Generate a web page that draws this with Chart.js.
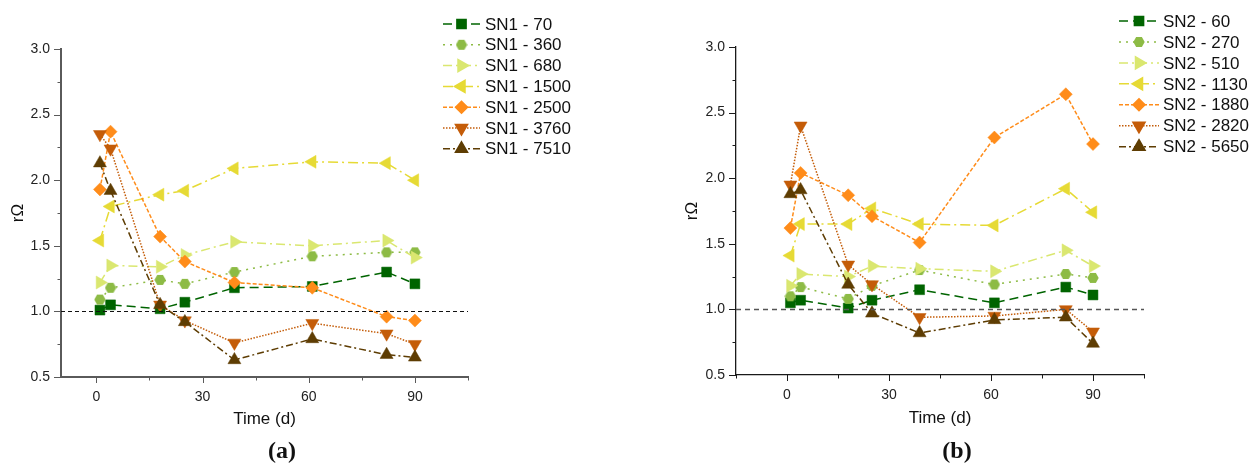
<!DOCTYPE html>
<html>
<head>
<meta charset="utf-8">
<script src="https://cdn.jsdelivr.net/npm/chart.js@4.4.1/dist/chart.umd.min.js"></script>
<style>
  html, body { margin: 0; padding: 0; background: #fff; }
  #wrap { position: relative; width: 1249px; height: 465px; }
  .panel { position: absolute; top: 0; height: 465px; }
</style>
</head>
<body>
<div id="wrap">
  <div class="panel" style="left:0;width:620px"><canvas id="chartA"></canvas></div>
  <div class="panel" style="left:620px;width:629px"><canvas id="chartB"></canvas></div>
</div>
<script>
// sampling days (x)
const days = [1, 4, 18, 25, 39, 61, 82, 90];
const xTickLabels = [0, 30, 60, 90];
const yTickLabels = [0.5, 1.0, 1.5, 2.0, 2.5, 3.0];

// panel (a) - SN1
const sn1Names = ["SN1 - 70", "SN1 - 360", "SN1 - 680", "SN1 - 1500", "SN1 - 2500", "SN1 - 3760", "SN1 - 7510"];
const sn1_70   = [1.01, 1.05, 1.02, 1.07, 1.18, 1.19, 1.30, 1.21];
const sn1_360  = [1.09, 1.18, 1.24, 1.21, 1.30, 1.42, 1.45, 1.45];
const sn1_680  = [1.22, 1.35, 1.34, 1.43, 1.53, 1.50, 1.54, 1.41];
const sn1_1500 = [1.54, 1.80, 1.89, 1.92, 2.09, 2.14, 2.13, 2.00];
const sn1_2500 = [1.93, 2.37, 1.57, 1.38, 1.22, 1.18, 0.96, 0.93];
const sn1_3760 = [2.35, 2.24, 1.05, 0.93, 0.76, 0.91, 0.83, 0.75];
const sn1_7510 = [2.13, 1.92, 1.05, 0.92, 0.63, 0.79, 0.67, 0.65];

// panel (b) - SN2
const sn2Names = ["SN2 - 60", "SN2 - 270", "SN2 - 510", "SN2 - 1130", "SN2 - 1880", "SN2 - 2820", "SN2 - 5650"];
const sn2_60   = [1.05, 1.07, 1.01, 1.07, 1.15, 1.05, 1.17, 1.11];
const sn2_270  = [1.10, 1.17, 1.08, 1.18, 1.30, 1.19, 1.27, 1.24];
const sn2_510  = [1.18, 1.27, 1.25, 1.33, 1.31, 1.29, 1.45, 1.33];
const sn2_1130 = [1.41, 1.65, 1.65, 1.77, 1.65, 1.64, 1.92, 1.74];
const sn2_1880 = [1.62, 2.04, 1.87, 1.71, 1.51, 2.31, 2.64, 2.26];
const sn2_2820 = [1.95, 2.40, 1.34, 1.19, 0.94, 0.95, 1.00, 0.83];
const sn2_5650 = [1.88, 1.91, 1.19, 0.97, 0.82, 0.92, 0.94, 0.74];

Chart.defaults.font.family = "'Liberation Sans', Arial, sans-serif";
Chart.defaults.color = '#222';

// hexagon marker (Chart.js has none)
function hexMarker(color, size) {
  const c = document.createElement('canvas');
  c.width = size; c.height = size;
  const g = c.getContext('2d');
  const r = size / 2;
  g.fillStyle = color;
  g.beginPath();
  for (let k = 0; k < 6; k++) {
    const a = Math.PI / 3 * k;
    const px = r + (r - 0.3) * Math.cos(a), py = r + (r - 0.3) * Math.sin(a);
    k === 0 ? g.moveTo(px, py) : g.lineTo(px, py);
  }
  g.closePath();
  g.fill();
  return c;
}

// one style per series position (same in both panels)
const seriesStyles = [
  { color: '#006400', marker: 'rect',     rot: 0,   radius: 7,   dash: [9, 5] },
  { color: '#8DBB45', marker: hexMarker('#8DBB45', 12), rot: 0, radius: 6, dash: [2, 5] },
  { color: '#DAE770', marker: 'triangle', rot: 90,  radius: 7.5, dash: [9, 4, 2, 4] },
  { color: '#E6DA35', marker: 'triangle', rot: -90, radius: 7.5, dash: [10, 4, 2, 4] },
  { color: '#FF8C1A', marker: 'rectRot',  rot: 0,   radius: 6.5, dash: [4, 2] },
  { color: '#C45C08', marker: 'triangle', rot: 180, radius: 7.5, dash: [1.5, 1.5] },
  { color: '#5E3D03', marker: 'triangle', rot: 0,   radius: 7.5, dash: [7, 3, 2, 3] }
];

function buildDatasets(names, series) {
  return names.map((name, i) => {
    const st = seriesStyles[i];
    return {
      label: name,
      data: days.map((d, j) => ({ x: d, y: series[i][j] })),
      borderColor: st.color,
      backgroundColor: st.color,
      borderWidth: 1.5,
      borderDash: st.dash,
      pointStyle: st.marker,
      pointRotation: st.rot,
      pointRadius: st.radius,
      pointBackgroundColor: st.color,
      pointBorderColor: st.color,
      pointBorderWidth: 0.5,
      order: names.length - i,
      tension: 0
    };
  });
}

// axes ticks, reference line, legend, titles
const decorPlugin = {
  id: 'decor',
  afterDraw(chart, args, o) {
    const ctx = chart.ctx;
    const xs = chart.scales.x, ys = chart.scales.y;
    const area = chart.chartArea;
    ctx.save();

    // dashed line at 1.0
    ctx.strokeStyle = o.refColor;
    ctx.lineWidth = o.refWidth;
    ctx.setLineDash(o.refDash);
    const yr = Math.round(ys.getPixelForValue(1.0)) + 0.5;
    ctx.beginPath();
    ctx.moveTo(area.left, yr);
    ctx.lineTo(area.right, yr);
    ctx.stroke();
    ctx.setLineDash([]);

    // tick marks, major + minor
    ctx.strokeStyle = o.axisColor;
    ctx.lineWidth = 1;
    for (let v = Math.ceil(xs.min / 15) * 15; v <= xs.max + 1e-6; v += 15) {
      const px = Math.round(xs.getPixelForValue(v)) + 0.5;
      const len = xTickLabels.includes(v) ? 6 : 3.5;
      ctx.beginPath();
      ctx.moveTo(px, area.bottom);
      ctx.lineTo(px, area.bottom + len);
      ctx.stroke();
    }
    for (let v = ys.min; v <= ys.max + 1e-6; v += 0.25) {
      const py = Math.round(ys.getPixelForValue(v)) + 0.5;
      const len = yTickLabels.some(t => Math.abs(t - v) < 1e-6) ? 7 : 3.5;
      ctx.beginPath();
      ctx.moveTo(area.left, py);
      ctx.lineTo(area.left - len, py);
      ctx.stroke();
    }

    // legend: line sample + marker + text
    chart.data.datasets.forEach((ds, i) => {
      const y = o.legend.y0 + i * o.legend.step;
      ctx.strokeStyle = ds.borderColor;
      ctx.lineWidth = 1.5;
      ctx.setLineDash(ds.borderDash);
      ctx.beginPath();
      ctx.moveTo(o.legend.x0, y);
      ctx.lineTo(o.legend.x1, y);
      ctx.stroke();
      ctx.setLineDash([]);
      ctx.fillStyle = ds.pointBackgroundColor;
      ctx.strokeStyle = ds.pointBorderColor;
      Chart.helpers.drawPoint(ctx, {
        pointStyle: ds.pointStyle, rotation: ds.pointRotation,
        radius: ds.pointRadius - 0.5, borderWidth: 0.5
      }, (o.legend.x0 + o.legend.x1) / 2, y);
      ctx.fillStyle = '#111';
      ctx.font = "17px 'Liberation Sans', Arial, sans-serif";
      ctx.textAlign = 'left';
      ctx.textBaseline = 'middle';
      ctx.fillText(ds.label, o.legend.tx, y + 1);
    });

    // axis titles
    ctx.fillStyle = '#111';
    ctx.font = "17px 'Liberation Sans', Arial, sans-serif";
    ctx.textAlign = 'center';
    ctx.textBaseline = 'middle';
    ctx.fillText('Time (d)', (area.left + area.right) / 2, o.xTitleY);
    ctx.save();
    ctx.translate(o.yTitleX, (area.top + area.bottom) / 2);
    ctx.rotate(-Math.PI / 2);
    ctx.fillText('rΩ', 0, 0);
    ctx.restore();

    // panel label
    ctx.font = "bold 24px 'Liberation Serif', 'Times New Roman', serif";
    ctx.fillText(o.panel, o.panelX, o.panelY);
    ctx.restore();
  }
};

function makeChart(id, names, series, cfg) {
  return new Chart(document.getElementById(id), {
    type: 'line',
    data: { datasets: buildDatasets(names, series) },
    plugins: [decorPlugin],
    options: {
      responsive: true,
      maintainAspectRatio: false,
      devicePixelRatio: 1,
      animation: false,
      layout: { padding: cfg.padding },
      plugins: {
        legend: { display: false },
        tooltip: { enabled: false },
        decor: cfg.decor
      },
      scales: {
        x: {
          type: 'linear',
          min: cfg.xMin, max: 105,
          grid: { display: false, drawTicks: false },
          border: { display: true, color: cfg.decor.axisColor, width: cfg.axisWidth },
          afterBuildTicks: s => { s.ticks = xTickLabels.map(v => ({ value: v })); },
          afterFit: s => { s.height = cfg.xHeight; },
          ticks: { padding: 12, font: { size: 14 }, color: '#222', maxRotation: 0 }
        },
        y: {
          type: 'linear',
          min: 0.5, max: 3.0,
          grid: { display: false, drawTicks: false },
          border: { display: true, color: cfg.decor.axisColor, width: cfg.axisWidth },
          afterBuildTicks: s => { s.ticks = yTickLabels.map(v => ({ value: v })); },
          afterFit: s => { s.width = cfg.yWidth; },
          ticks: { padding: 11, font: { size: 14 }, color: '#222', callback: v => v.toFixed(1) }
        }
      }
    }
  });
}

makeChart('chartA', sn1Names, [sn1_70, sn1_360, sn1_680, sn1_1500, sn1_2500, sn1_3760, sn1_7510], {
  padding: { left: 0, top: 49, right: 152, bottom: 0 },
  xMin: -10, yWidth: 61, xHeight: 88, axisWidth: 2,
  decor: {
    axisColor: '#5a5a5a', refColor: '#111', refWidth: 1, refDash: [4, 3],
    legend: { x0: 443, x1: 480, tx: 485, y0: 24, step: 20.8 },
    xTitleY: 419, yTitleX: 18, panel: '(a)', panelX: 282, panelY: 452
  }
});

makeChart('chartB', sn2Names, [sn2_60, sn2_270, sn2_510, sn2_1130, sn2_1880, sn2_2820, sn2_5650], {
  padding: { left: 0, top: 47, right: 105, bottom: 0 },
  xMin: -15, yWidth: 116, xHeight: 90, axisWidth: 1.3,
  decor: {
    axisColor: '#1a1a1a', refColor: '#555', refWidth: 1.5, refDash: [5, 4],
    legend: { x0: 499, x1: 539, tx: 543, y0: 21, step: 20.95 },
    xTitleY: 418, yTitleX: 72, panel: '(b)', panelX: 337, panelY: 452
  }
});
</script>
</body>
</html>
